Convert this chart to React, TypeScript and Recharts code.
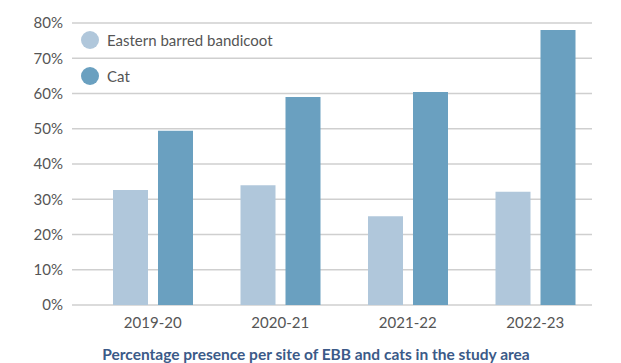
import { Bar, BarChart, CartesianGrid, XAxis, YAxis } from "recharts";

const years = ["2019-20", "2020-21", "2021-22", "2022-23"];
const bandicoot = [32.6, 34.0, 25.2, 32.1];
const cat = [49.4, 59.0, 60.4, 78.0];
const yTicks = [0, 10, 20, 30, 40, 50, 60, 70, 80];

const series = [
  { key: "bandicoot", name: "Eastern barred bandicoot", color: "#b0c7db" },
  { key: "cat", name: "Cat", color: "#6aa0c0" },
];

const data = years.map((year, i) => ({ year, bandicoot: bandicoot[i], cat: cat[i] }));

const FONT = "Lato, 'Open Sans', sans-serif";

function LegendBox() {
  return (
    <div
      style={{
        position: "absolute",
        left: 81,
        top: 22,
        fontFamily: FONT,
        fontSize: 15,
        color: "#555",
      }}
    >
      {series.map((s) => (
        <div key={s.key} style={{ display: "flex", alignItems: "center", height: 36 }}>
          <span
            style={{
              width: 18,
              height: 18,
              borderRadius: 9,
              background: s.color,
              display: "inline-block",
              marginRight: 8,
            }}
          />
          {s.name}
        </div>
      ))}
    </div>
  );
}

export default function App() {
  return (
    <div style={{ position: "absolute", left: 0, top: 0, width: 621, height: 363, background: "#fff" }}>
      <BarChart
        width={621}
        height={363}
        data={data}
        margin={{ top: 23, right: 29, left: 0, bottom: 0 }}
        barSize={35}
        barGap={10}
      >
        <CartesianGrid vertical={false} stroke="#cfcfcf" strokeWidth={1.5} />
        <XAxis
          dataKey="year"
          axisLine={false}
          tickLine={false}
          tickSize={0}
          tickMargin={12}
          height={58}
          padding={{ left: 17, right: -7 }}
          tick={{ fontSize: 15, fill: "#555", fontFamily: FONT }}
          label={{
            value: "Percentage presence per site of EBB and cats in the study area",
            position: "insideBottom",
            offset: 3,
            dx: -16,
            fill: "#3b5a88",
            fontSize: 15.5,
            fontWeight: 700,
            fontFamily: FONT,
          }}
        />
        <YAxis
          domain={[0, 80]}
          ticks={yTicks}
          width={72}
          axisLine={false}
          tickLine={false}
          tickSize={0}
          tickMargin={9}
          tickFormatter={(v) => `${v}%`}
          tick={{ fontSize: 15, fill: "#555", fontFamily: FONT }}
        />
        {series.map((s) => (
          <Bar key={s.key} dataKey={s.key} name={s.name} fill={s.color} isAnimationActive={false} />
        ))}
      </BarChart>
      <LegendBox />
    </div>
  );
}
